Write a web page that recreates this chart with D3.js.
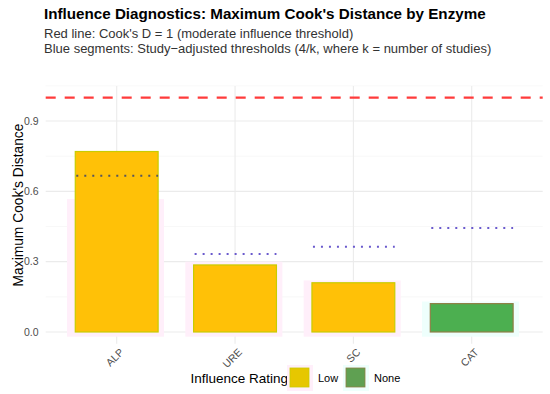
<!DOCTYPE html>
<html>
<head>
<meta charset="utf-8">
<script src="https://cdn.jsdelivr.net/npm/d3@7"></script>
<style>
  body { margin: 0; background: #fff; }
  svg text { font-family: "Liberation Sans", Arial, sans-serif; }
</style>
</head>
<body>
<div id="chart"></div>
<script>
// data
const enzymes = ['ALP', 'URE', 'SC', 'CAT']
const maxCook = [0.77, 0.286, 0.21, 0.121]
const thresholds = [0.667, 0.333, 0.364, 0.444]   // 4/k
const ratings = ['Low', 'Low', 'Low', 'None']
const glowHeights = [0.567, 0.30, 0.22, 0.13]
const yTicks = [0, 0.3, 0.6, 0.9]
const yMinor = [0.15, 0.45, 0.75, 1.05]
const ratingLevels = ['Low', 'None']
const cookLine = 1

const fillColor = { Low: '#FFC107', None: '#4CAF50' }
const edgeColor = { Low: '#C9CC00', None: '#8E7F45' }
const glowColor = { Low: '#FFEFFA', None: '#EEFFFC' }

const W = 550, H = 394
const plot = { left: 45.7, right: 542.7, top: 85.9, bottom: 343.7 }

const svg = d3.select('#chart')
  .append('svg')
  .attr('width', W)
  .attr('height', H)

const x = d3.scaleBand()
  .domain(enzymes)
  .range([plot.left, plot.right])
  .paddingInner(0)
  .paddingOuter(0.1)

const y = d3.scaleLinear()
  .domain([-0.05, 1.05])
  .range([plot.bottom, plot.top])

const cx = d => x(d) + x.bandwidth() / 2
const barW = x.step() * 0.7

// grid
svg.append('g').selectAll('line')
  .data(yMinor)
  .enter().append('line')
  .attr('x1', plot.left).attr('x2', plot.right)
  .attr('y1', d => y(d)).attr('y2', d => y(d))
  .attr('stroke', '#f4f4f4').attr('stroke-width', 0.6)

svg.append('g').selectAll('line')
  .data(yTicks)
  .enter().append('line')
  .attr('x1', plot.left).attr('x2', plot.right)
  .attr('y1', d => y(d)).attr('y2', d => y(d))
  .attr('stroke', '#ebebeb').attr('stroke-width', 1.1)

svg.append('g').selectAll('line')
  .data(enzymes)
  .enter().append('line')
  .attr('x1', d => cx(d)).attr('x2', d => cx(d))
  .attr('y1', plot.top).attr('y2', plot.bottom)
  .attr('stroke', '#ebebeb').attr('stroke-width', 1.1)

// faint halo behind bars
svg.append('g').selectAll('rect')
  .data(enzymes)
  .enter().append('rect')
  .attr('x', d => cx(d) - x.step() * 0.42)
  .attr('width', x.step() * 0.82)
  .attr('y', (d, i) => y(glowHeights[i]))
  .attr('height', (d, i) => y(-0.02) - y(glowHeights[i]))
  .attr('fill', (d, i) => glowColor[ratings[i]])

// bars
svg.append('g').selectAll('rect')
  .data(enzymes)
  .enter().append('rect')
  .attr('x', d => cx(d) - barW / 2)
  .attr('width', barW)
  .attr('y', (d, i) => y(maxCook[i]))
  .attr('height', (d, i) => y(0) - y(maxCook[i]))
  .attr('fill', (d, i) => fillColor[ratings[i]])
  .attr('stroke', (d, i) => edgeColor[ratings[i]])
  .attr('stroke-width', 1.2)

// cook's D = 1
svg.append('line')
  .attr('x1', plot.left).attr('x2', plot.right)
  .attr('y1', y(cookLine)).attr('y2', y(cookLine))
  .attr('stroke', '#FF3B3B')
  .attr('stroke-width', 2.2)
  .attr('stroke-dasharray', '10,9')

// study-adjusted thresholds
svg.append('g').selectAll('line')
  .data(enzymes)
  .enter().append('line')
  .attr('x1', d => cx(d) - barW / 2 + 1)
  .attr('x2', d => cx(d) + barW / 2)
  .attr('y1', (d, i) => y(thresholds[i]))
  .attr('y2', (d, i) => y(thresholds[i]))
  .attr('stroke', (d, i) => maxCook[i] > thresholds[i] ? '#55555f' : '#6A5ACD')
  .attr('stroke-width', 2)
  .attr('stroke-dasharray', '2,6')

// y axis labels
svg.append('g').selectAll('text')
  .data(yTicks)
  .enter().append('text')
  .attr('x', 38.5)
  .attr('y', d => y(d) + 3.8)
  .attr('text-anchor', 'end')
  .style('font-size', '10.5px')
  .attr('fill', '#4d4d4d')
  .text(d => d3.format('.1f')(d))

svg.append('text')
  .attr('transform', 'translate(22.5,205) rotate(-90)')
  .attr('text-anchor', 'middle')
  .style('font-size', '13.8px')
  .attr('fill', '#000')
  .text("Maximum Cook's Distance")

// x axis labels
svg.append('g').selectAll('text')
  .data(enzymes)
  .enter().append('text')
  .attr('transform', d => `translate(${cx(d) + 2.5},${plot.bottom + 4}) rotate(-45)`)
  .attr('text-anchor', 'end')
  .attr('dy', '0.7em')
  .style('font-size', '10.5px')
  .attr('fill', '#4d4d4d')
  .text(d => d)

// title + subtitle
svg.append('text')
  .attr('x', 44).attr('y', 18.5)
  .style('font-size', '15.2px')
  .style('font-weight', 'bold')
  .text("Influence Diagnostics: Maximum Cook's Distance by Enzyme")

const subtitle = ["Red line: Cook's D = 1 (moderate influence threshold)",
  'Blue segments: Study\u2212adjusted thresholds (4/k, where k = number of studies)']
svg.append('g').selectAll('text')
  .data(subtitle)
  .enter().append('text')
  .attr('x', 44)
  .attr('y', (d, i) => 37.5 + i * 15)
  .style('font-size', '13px')
  .attr('fill', '#333')
  .text(d => d)

// legend
const lg = svg.append('g')
lg.append('text')
  .attr('x', 190.5).attr('y', 383)
  .style('font-size', '13.5px')
  .text('Influence Rating')

const keyX = [290, 346]
ratingLevels.forEach((r, i) => {
  lg.append('rect')
    .attr('x', keyX[i] - 3).attr('y', 365)
    .attr('width', 26).attr('height', 26)
    .attr('fill', glowColor[r])
  lg.append('rect')
    .attr('x', keyX[i]).attr('y', 368)
    .attr('width', 19).attr('height', 19)
    .attr('fill', r === 'Low' ? '#E6C700' : '#5FA052')
    .attr('stroke', edgeColor[r]).attr('stroke-width', 0.8)
  lg.append('text')
    .attr('x', keyX[i] + 28).attr('y', 382)
    .style('font-size', '11px')
    .text(r)
})
</script>
</body>
</html>
